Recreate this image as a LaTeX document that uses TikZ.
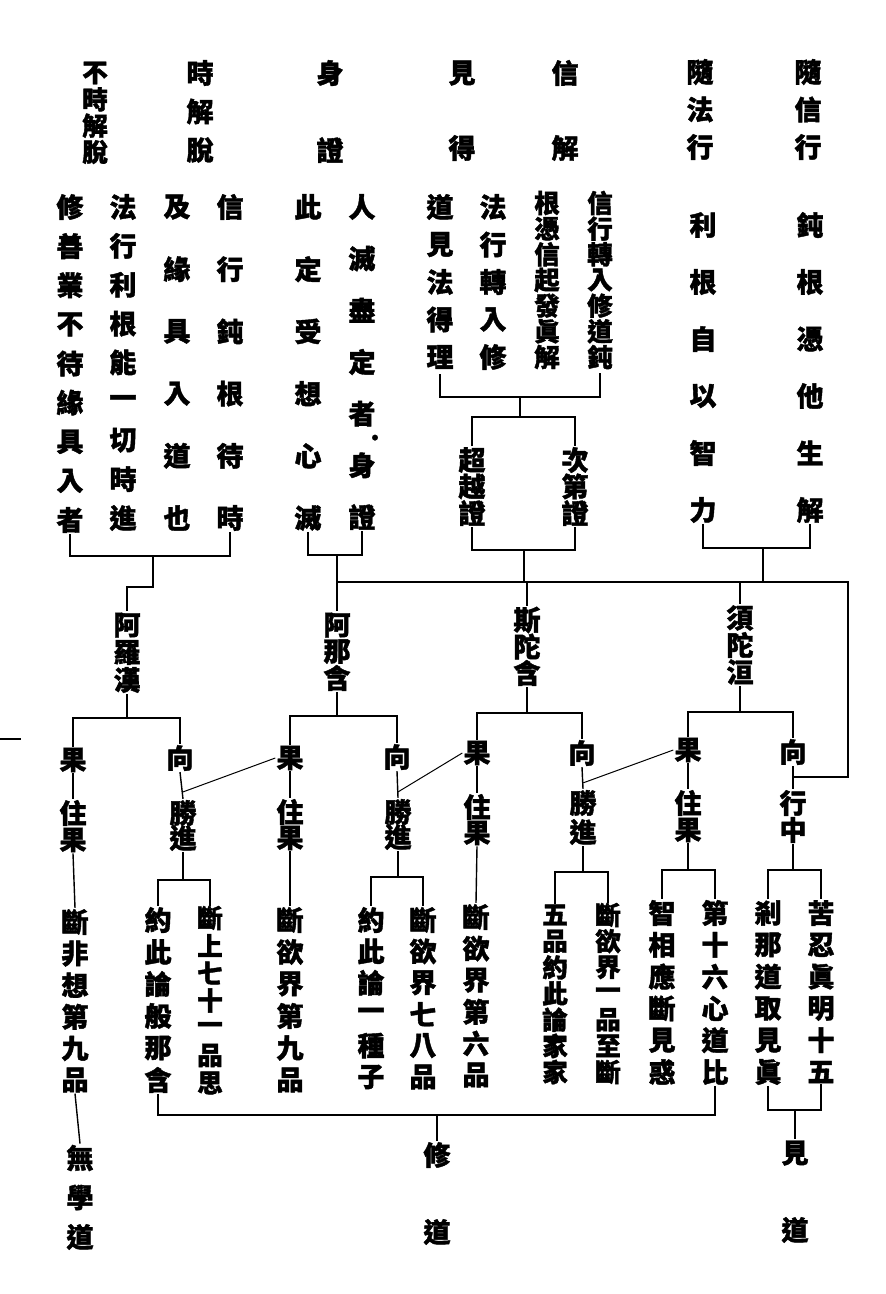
\documentclass[tikz,border=0pt]{standalone}
\usepackage{fontspec}
\newfontfamily\cjk{Noto Sans CJK TC}[FakeBold=1.5]
\tikzset{
  ch/.style={font=\cjk\bfseries\fontsize{27}{27}\selectfont, inner sep=1pt, anchor=center},
  chs/.style={ch, font=\cjk\bfseries\fontsize{25.5}{25.5}\selectfont, inner sep=0pt},
  ln/.style={line width=1.4pt, line cap=butt},
}
\newcommand\vcol[7][ch]{%
  \foreach \c [count=\i] in {#7} {%
    \node[#1] (#2-\i) at (#3, {#4 + (\i-1)*(#5-#4)/(#6-1)}) {\c};
  }}
\begin{document}
\begin{tikzpicture}[x=1pt,y=-1pt]
\useasboundingbox (0,0) rectangle (886,1294);
\fill[white] (0,0) rectangle (886,1294);
% titles
\vcol[chs]{t1}{95}{73}{152}{4}{不,時,解,脫}
\vcol{t2}{200}{73}{150}{3}{時,解,脫}
\vcol{t3}{330}{73}{150}{2}{身,證}
\vcol{t4}{462}{73}{148}{2}{見,得}
\vcol{t5}{565}{73}{148}{2}{信,解}
\vcol{t6}{700}{72}{147}{3}{隨,法,行}
\vcol{t7}{808}{72}{147}{3}{隨,信,行}
% text blocks
\vcol{b1}{70}{207}{520}{9}{修,善,業,不,待,緣,具,入,者}
\vcol{b2}{123}{207}{518}{9}{法,行,利,根,能,一,切,時,進}
\vcol{b3}{177}{207}{518}{6}{及,緣,具,入,道,也}
\vcol{b4}{230}{207}{518}{6}{信,行,鈍,根,待,時}
\vcol{b5}{308}{207}{518}{6}{此,定,受,想,心,滅}
\vcol{b6}{362}{207}{517}{7}{人,滅,盡,定,者,身,證}
\node[font=\cjk\bfseries\fontsize{20}{20}\selectfont, inner sep=0pt] (dot) at (375,440) {·};
\vcol{b7}{440}{207}{357}{5}{道,見,法,得,理}
\vcol{b8}{493}{207}{357}{5}{法,行,轉,入,修}
\vcol[chs]{b9}{547}{203}{357}{7}{根,憑,信,起,發,眞,解}
\vcol[chs]{b10}{600}{203}{357}{7}{信,行,轉,入,修,道,鈍}
\vcol{b11}{703}{225}{510}{6}{利,根,自,以,智,力}
\vcol{b12}{810}{225}{510}{6}{鈍,根,憑,他,生,解}
% proof kinds
\vcol{cy}{472}{460}{513}{3}{超,越,證}
\vcol{cd}{575}{460}{513}{3}{次,第,證}
% stages
\vcol{arh}{127}{625}{680}{3}{阿,羅,漢}
\vcol{ana}{337}{625}{678}{3}{阿,那,含}
\vcol{sdh}{527}{620}{673}{3}{斯,陀,含}
\vcol{xth}{740}{618}{672}{3}{須,陀,洹}
% guo / xiang
\node[ch] (arhg) at (73,760) {果};
\node[ch] (arhx) at (180,758) {向};
\node[ch] (anag) at (290,758) {果};
\node[ch] (anax) at (397,757) {向};
\node[ch] (sdhg) at (477,753) {果};
\node[ch] (sdhx) at (582,753) {向};
\node[ch] (xthg) at (688,750) {果};
\node[ch] (xthx) at (793,752) {向};
% second level
\vcol{arhz}{73}{813}{840}{2}{住,果}
\vcol{arhs}{183}{813}{838}{2}{勝,進}
\vcol{anaz}{290}{812}{838}{2}{住,果}
\vcol{anas}{398}{812}{837}{2}{勝,進}
\vcol{sdhz}{477}{807}{833}{2}{住,果}
\vcol{sdhs}{583}{803}{832}{2}{勝,進}
\vcol{xthz}{688}{803}{830}{2}{住,果}
\vcol{xthm}{793}{803}{830}{2}{行,中}
% descriptions
\vcol{d1}{75}{922}{1080}{6}{斷,非,想,第,九,品}
\vcol{d2}{158}{920}{1080}{6}{約,此,論,般,那,含}
\vcol[chs]{d3}{210}{918}{1083}{7}{斷,上,七,十,一,品,思}
\vcol{d4}{290}{920}{1080}{6}{斷,欲,界,第,九,品}
\vcol{d5}{371}{920}{1077}{6}{約,此,論,一,種,子}
\vcol{d6}{423}{920}{1077}{6}{斷,欲,界,七,八,品}
\vcol{d7}{476}{917}{1075}{6}{斷,欲,界,第,六,品}
\vcol[chs]{d8}{555}{915}{1072}{7}{五,品,約,此,論,家,家}
\vcol[chs]{d9}{608}{915}{1072}{7}{斷,欲,界,一,品,至,斷}
\vcol{d10}{662}{913}{1072}{6}{智,相,應,斷,見,惑}
\vcol{d11}{715}{913}{1072}{6}{第,十,六,心,道,比}
\vcol{d12}{768}{913}{1072}{6}{剎,那,道,取,見,眞}
\vcol{d13}{821}{913}{1072}{6}{苦,忍,眞,明,十,五}
% final paths
\vcol{wxd}{80}{1158}{1237}{3}{無,學,道}
\vcol{xd}{437}{1155}{1232}{2}{修,道}
\vcol{jd}{795}{1153}{1230}{2}{見,道}
% ---------- connectors ----------
\coordinate (jA) at (153,556);
\coordinate (jC) at (520,397);
\coordinate (jC2) at (524,550);
\coordinate (jD) at (763,548);
\coordinate (R) at (848,582);
\coordinate (m1) at (0,739);
\coordinate (m2) at (21,739);
\begin{scope}[ln]
% top brackets
\draw (b1-9.south) |- (b4-6.south |- 0,556) -- (b4-6.south);
\draw (jA) -- ++(0,31) -| (arh-1.north);
\draw (b5-6.south) |- (b6-7.south |- 0,555) -- (b6-7.south);
\draw (ana-1.north |- 0,555) -- (ana-1.north);
\draw ([yshift=-4pt]b7-5.south) |- (b10-7.south |- 0,397) -- ([yshift=-4pt]b10-7.south);
\draw (jC) -- (jC |- 0,417);
\draw (cy-1.north) |- (cd-1.north |- 0,417) -- (cd-1.north);
\draw (cy-3.south) |- (cd-3.south |- 0,550) -- (cd-3.south);
\draw (jC2) -- (jC2 |- R);
\draw (b11-6.south) |- (b12-6.south |- 0,548) -- (b12-6.south);
\draw (jD) -- (jD |- R);
% long line
\draw (ana-1.north |- R) -- (R) |- (xthx.south |- 0,777);
\draw (sdh-1.north |- R) -- (sdh-1.north);
\draw (xth-1.north |- R) -- (xth-1.north);
% stage brackets
\draw (arh-3.south) -- (arh-3.south |- 0,718);
\draw (arhg.north) |- (arhx.north |- 0,718) -- (arhx.north);
\draw (ana-3.south) -- (ana-3.south |- 0,716);
\draw (anag.north) |- (anax.north |- 0,716) -- (anax.north);
\draw (sdh-3.south) -- (sdh-3.south |- 0,713);
\draw (sdhg.north) |- (sdhx.north |- 0,713) -- (sdhx.north);
\draw (xth-3.south) -- (xth-3.south |- 0,712);
\draw (xthg.north) |- (xthx.north |- 0,712) -- (xthx.north);
% ticks guo/xiang to second level
\draw (arhg.south) -- (arhz-1.north);
\draw (arhx.south) -- (arhs-1.north);
\draw (anag.south) -- (anaz-1.north);
\draw (anax.south) -- (anas-1.north);
\draw (sdhg.south) -- (sdhz-1.north);
\draw (sdhx.south) -- (sdhs-1.north);
\draw (xthg.south) -- (xthz-1.north);
\draw (xthx.south) -- (xthm-1.north);
% diagonals
\draw[line width=1pt] (anag.west) -- ([yshift=7pt]arhs-1.north);
\draw[line width=1pt] (sdhg.west) -- ([yshift=6pt]anas-1.north);
\draw[line width=1pt] (xthg.west) -- ([yshift=6pt]sdhs-1.north);
% lower level
\draw (arhz-2.south) -- (d1-1.north);
\draw (d1-6.south) -- (wxd-1.north);
\draw (arhs-2.south) -- (arhs-2.south |- 0,880);
\draw (d2-1.north) |- (d3-1.north |- 0,880) -- (d3-1.north);
\draw (anaz-2.south) -- (d4-1.north);
\draw (anas-2.south) -- (anas-2.south |- 0,877);
\draw (d5-1.north) |- (d6-1.north |- 0,877) -- (d6-1.north);
\draw (sdhz-2.south) -- (d7-1.north);
\draw (sdhs-2.south) -- (sdhs-2.south |- 0,872);
\draw (d8-1.north) |- (d9-1.north |- 0,872) -- (d9-1.north);
\draw (xthz-2.south) -- (xthz-2.south |- 0,870);
\draw (d10-1.north) |- (d11-1.north |- 0,870) -- (d11-1.north);
\draw (xthm-2.south) -- (xthm-2.south |- 0,870);
\draw (d12-1.north) |- (d13-1.north |- 0,870) -- (d13-1.north);
% xiu dao
\draw (d2-6.south) |- (d11-6.south |- 0,1115) -- (d11-6.south);
\draw (xd-1.north |- 0,1115) -- (xd-1.north);
% jian dao
\draw (d12-6.south) |- (d13-6.south |- 0,1110) -- (d13-6.south);
\draw (jd-1.north |- 0,1110) -- (jd-1.north);
% margin mark
\draw (m1) -- (m2);
\end{scope}
\end{tikzpicture}
\end{document}
